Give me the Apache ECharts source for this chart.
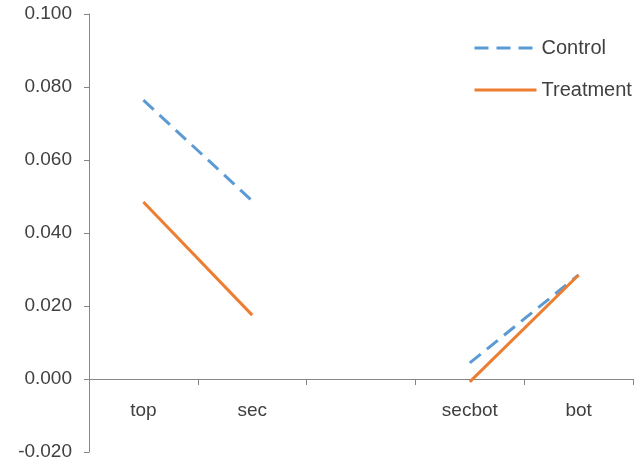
<!DOCTYPE html>
<html><head><meta charset="utf-8">
<script src="https://cdn.jsdelivr.net/npm/echarts@6/dist/echarts.min.js"></script>
<style>html,body{margin:0;padding:0;background:#fff}#c{width:641px;height:466px}</style>
</head><body><div id="c"></div>
<script>
var categories = ['top', 'sec', '', 'secbot', 'bot'];
var control = [0.0764, 0.0488, null, 0.0044, 0.0285];
var treatment = [0.0485, 0.0175, null, -0.0008, 0.0285];
var yTicks = { min: -0.02, max: 0.1, interval: 0.02 };

var chart = echarts.init(document.getElementById('c'));
var font = "'Liberation Sans', Arial, sans-serif";
var txt = '#404040';
chart.setOption({
  animation: false,
  backgroundColor: '#fff',
  textStyle: { fontFamily: font },
  grid: { left: 89, right: 8, top: 14, bottom: 14, outerBoundsMode: 'none', containLabel: false },
  legend: {
    orient: 'vertical', left: 473, top: 38, padding: 0,
    itemWidth: 62, itemHeight: 14, itemGap: 22,
    itemStyle: { opacity: 0 },
    lineStyle: { width: 3 },
    textStyle: { fontSize: 20, color: txt, fontFamily: font },
    data: ['Control', 'Treatment']
  },
  xAxis: {
    type: 'category', data: categories,
    axisLine: { onZero: false, lineStyle: { color: '#868686', width: 1 } },
    axisTick: { show: true, length: 6, lineStyle: { color: '#868686' } },
    axisLabel: { margin: 22, fontSize: 19, color: txt, fontFamily: font, interval: 0 },
    splitLine: { show: false }
  },
  yAxis: {
    type: 'value', min: yTicks.min, max: yTicks.max, interval: yTicks.interval,
    axisLine: { show: true, lineStyle: { color: '#868686' } },
    axisTick: { show: true, length: 5, lineStyle: { color: '#868686' } },
    axisLabel: { margin: 17, fontSize: 19, color: txt, fontFamily: font,
      formatter: function (v) { return v.toFixed(3); } },
    splitLine: { show: false }
  },
  series: [
    { name: 'Control', type: 'line', data: control, symbol: 'none', connectNulls: false,
      lineStyle: { color: '#5B9BD5', width: 3, type: [14, 8] }, itemStyle: { color: '#5B9BD5' } },
    { name: 'Treatment', type: 'line', data: treatment, symbol: 'none', connectNulls: false,
      lineStyle: { color: '#ED7D31', width: 3 }, itemStyle: { color: '#ED7D31' } }
  ]
});
// move the category axis (line, ticks, labels) up to the y = 0 position
var zeroY = chart.convertToPixel({ yAxisIndex: 0 }, 0);
var bottomY = chart.convertToPixel({ yAxisIndex: 0 }, yTicks.min);
chart.setOption({ xAxis: { offset: -(bottomY - zeroY) } });
</script></body></html>
